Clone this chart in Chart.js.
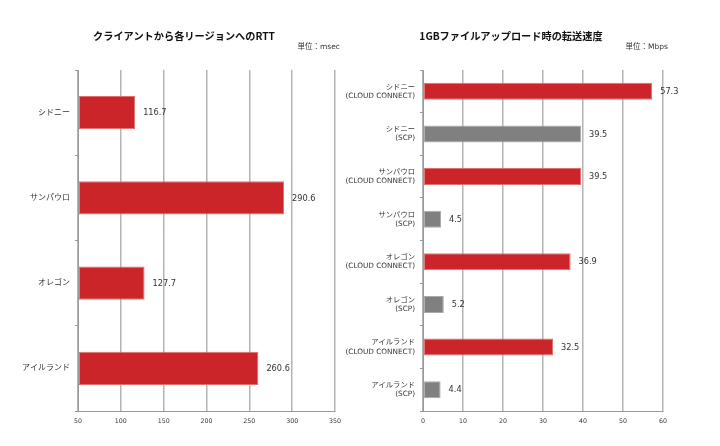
<!DOCTYPE html>
<html><head><meta charset="utf-8">
<script src="https://cdn.jsdelivr.net/npm/chart.js@4/dist/chart.umd.min.js"></script>
<style>
body{margin:0;width:720px;height:446px;background:#fff;position:relative;overflow:hidden;font-family:"DejaVu Sans","Noto Sans CJK JP",sans-serif}
canvas{position:absolute;top:0}
.t{position:absolute;font-family:"Noto Sans CJK JP",sans-serif;font-weight:bold;font-size:10.2px;color:#111;white-space:nowrap;transform:translate(-50%,-50%)}
.u{position:absolute;font-family:"DejaVu Sans","Noto Sans CJK JP",sans-serif;font-size:7.5px;color:#333;white-space:nowrap;transform:translate(-100%,-50%)}
</style></head>
<body>
<canvas id="rtt" width="360" height="446" style="left:0"></canvas>
<canvas id="speed" width="380" height="446" style="left:340px"></canvas>
<div class="t" style="left:184px;top:35px">クライアントから各リージョンへのRTT</div>
<div class="u" style="left:340px;top:45px">単位：msec</div>
<div class="t" style="left:511px;top:35px">1GBファイルアップロード時の転送速度</div>
<div class="u" style="left:668px;top:45px">単位：Mbps</div>
<script>
// ---- data ----
const rttCategories = ['シドニー', 'サンパウロ', 'オレゴン', 'アイルランド'];
const rttValues = [116.7, 290.6, 127.7, 260.6];
const rttTicks = [50, 100, 150, 200, 250, 300, 350];

const speedCategories = [
  ['シドニー', '(CLOUD CONNECT)'], ['シドニー', '(SCP)'],
  ['サンパウロ', '(CLOUD CONNECT)'], ['サンパウロ', '(SCP)'],
  ['オレゴン', '(CLOUD CONNECT)'], ['オレゴン', '(SCP)'],
  ['アイルランド', '(CLOUD CONNECT)'], ['アイルランド', '(SCP)']
];
const speedValues = [57.3, 39.5, 39.5, 4.5, 36.9, 5.2, 32.5, 4.4];
const speedTicks = [0, 10, 20, 30, 40, 50, 60];
const speedMethods = ['cc', 'scp', 'cc', 'scp', 'cc', 'scp', 'cc', 'scp'];

const RED = '#cc2529', RED_B = '#e07070', GRAY = '#808080', GRAY_B = '#aaaaaa';

Chart.defaults.font.family = '"DejaVu Sans","Noto Sans CJK JP",sans-serif';
Chart.defaults.color = '#333';

const valueLabels = {
  id: 'valueLabels',
  afterDatasetsDraw(chart) {
    const ctx = chart.ctx;
    const meta = chart.getDatasetMeta(0);
    const data = chart.data.datasets[0].data;
    ctx.save();
    ctx.font = '8.2px "DejaVu Sans"';
    ctx.fillStyle = '#333';
    ctx.textBaseline = 'middle';
    ctx.textAlign = 'left';
    meta.data.forEach((bar, i) => ctx.fillText(data[i].toFixed(1), bar.x + 8, bar.y + 0.5));
    ctx.restore();
  }
};

function makeChart(id, cats, vals, ticks, colors, borders, yWidth, padRight, barPct, catFont) {
  const min = ticks[0], max = ticks[ticks.length - 1];
  return new Chart(document.getElementById(id), {
    type: 'bar',
    data: {
      labels: cats,
      datasets: [{
        data: vals,
        base: min,
        backgroundColor: colors,
        borderColor: borders,
        borderWidth: 1,
        borderSkipped: false,
        barPercentage: barPct,
        categoryPercentage: 1
      }]
    },
    options: {
      indexAxis: 'y',
      responsive: false,
      animation: false,
      events: [],
      layout: { padding: { left: 0, right: padRight, top: 70, bottom: 0 } },
      plugins: { legend: { display: false }, tooltip: { enabled: false } },
      scales: {
        x: {
          min: min, max: max,
          afterBuildTicks: s => { s.ticks = ticks.map(v => ({ value: v })); },
          afterFit: s => { s.height = 35; },
          grid: { color: '#b4b4b4', lineWidth: 1.5, drawTicks: false },
          border: { color: '#999', width: 1 },
          ticks: { font: { size: 6.3 }, color: '#333', padding: 7 }
        },
        y: {
          afterFit: s => { s.width = yWidth; },
          grid: { drawOnChartArea: false, drawTicks: true, tickLength: 3, color: '#999', offset: true },
          border: { color: '#999', width: 1 },
          ticks: { font: { size: catFont, lineHeight: 1.25 }, color: '#333', padding: 5 }
        }
      }
    },
    plugins: [valueLabels]
  });
}

makeChart('rtt', rttCategories, rttValues, rttTicks,
  rttValues.map(() => RED), rttValues.map(() => RED_B), 78, 25, 0.39, 8);
makeChart('speed', speedCategories, speedValues, speedTicks,
  speedMethods.map(m => m === 'cc' ? RED : GRAY), speedMethods.map(m => m === 'cc' ? RED_B : GRAY_B),
  83, 57, 0.4, 7.3);
</script>
</body></html>
